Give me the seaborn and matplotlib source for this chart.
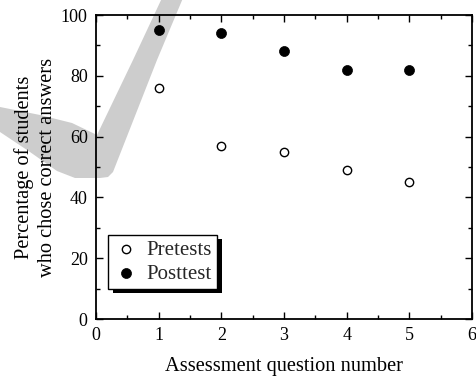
import matplotlib
matplotlib.use("Agg")
import matplotlib.pyplot as plt
import matplotlib.patches as mpatches
from matplotlib.ticker import MultipleLocator
import seaborn as sns
import pandas as pd

questions = [1, 2, 3, 4, 5]
pretests = [76, 57, 55, 49, 45]
posttest = [95, 94, 88, 82, 82]

sns.set_theme(style="ticks")
plt.rcParams['font.family'] = ['Liberation Serif', 'DejaVu Serif']
plt.rcParams['mathtext.fontset'] = 'stix'

df = pd.DataFrame({"q": questions, "pre": pretests, "post": posttest})

W, H = 476, 378
fig = plt.figure(figsize=(W/100, H/100), dpi=100)
ax = fig.add_axes([96/W, 1-319/H, 376/W, 304/H])

# decorative watermark (check mark) in figure pixel coords
wm_px = [(0, 107), (40, 115), (72, 123), (97, 135), (133, 60), (162, -2), (183, -2),
         (157, 60), (113, 172), (108, 177), (100, 178), (75, 178), (57, 171),
         (30, 152), (0, 132)]
wm = mpatches.Polygon([(x/W, 1-y/H) for x, y in wm_px], closed=True,
                      transform=fig.transFigure, facecolor='#cdcdcd',
                      edgecolor='none', zorder=-10)
fig.add_artist(wm)
ax.set_facecolor('none')

sns.scatterplot(data=df, x="q", y="pre", ax=ax, marker='o', s=36,
                facecolor='white', edgecolor='black', linewidth=1.0,
                label='Pretests', zorder=3)
sns.scatterplot(data=df, x="q", y="post", ax=ax, marker='o', s=52,
                color='black', edgecolor='black', linewidth=0.5,
                label='Posttest', zorder=3)

ax.set_xlim(0, 6)
ax.set_ylim(0, 100)
ax.xaxis.set_major_locator(MultipleLocator(1))
ax.xaxis.set_minor_locator(MultipleLocator(0.5))
ax.yaxis.set_major_locator(MultipleLocator(20))
ax.yaxis.set_minor_locator(MultipleLocator(10))
ax.tick_params(which='both', direction='in', top=True, right=True,
               width=1.0, color='black', labelsize=13, labelcolor='black')
ax.tick_params(which='major', length=5, pad=6)
ax.tick_params(which='minor', length=3)
for sp in ax.spines.values():
    sp.set_linewidth(1.3)
    sp.set_color('black')

ax.set_xlabel("Assessment question number", fontsize=14.7, labelpad=9, color='black')
ax.set_ylabel("Percentage of students\nwho chose correct answers", fontsize=14.7,
              labelpad=3, color='black', linespacing=1.25)

leg = ax.legend(loc='upper left', bbox_to_anchor=(12/376, (319-235)/304),
                frameon=True, fancybox=False, framealpha=1, edgecolor='black',
                fontsize=15, handletextpad=0.4, borderpad=0.25, labelspacing=0.2,
                handlelength=1.2, borderaxespad=0)
leg.get_frame().set_linewidth(1.0)
leg.set_zorder(5)

fig.canvas.draw()
bb = leg.get_window_extent()
inv = ax.transAxes.inverted()
(x0, y0), (x1, y1) = inv.transform([[bb.x0 + 5, bb.y0 - 4], [bb.x1 + 5, bb.y1 - 4]])
shadow = mpatches.Rectangle((x0, y0), x1 - x0, y1 - y0, transform=ax.transAxes,
                            facecolor='black', edgecolor='none', zorder=4.9, clip_on=False)
ax.add_patch(shadow)

fig.savefig("out.png", dpi=100)
